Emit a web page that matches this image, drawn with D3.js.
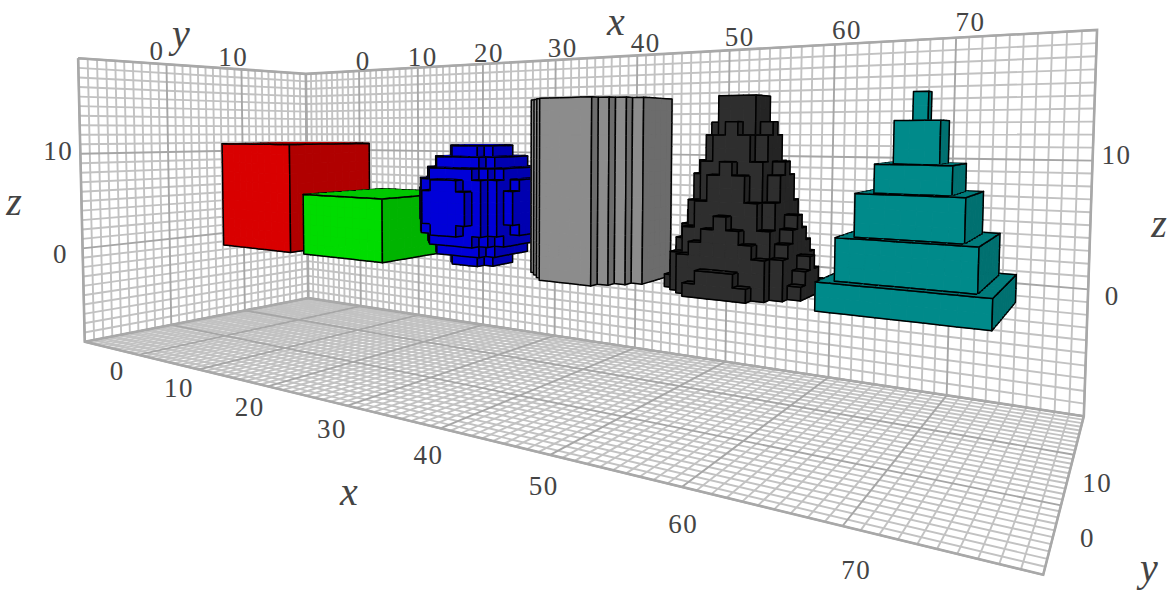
<!DOCTYPE html>
<html>
<head>
<meta charset="utf-8">
<script src="https://cdn.jsdelivr.net/npm/d3@7"></script>
<style>
body { margin: 0; background: #fff; }
text { font-family: "Liberation Serif", serif; fill: #444; }
.title { font-style: italic; font-size: 40px; }
</style>
</head>
<body>
<div id="chart"></div>
<script>
let width = 1175;
let height = 595;

let xRange = [-10, 80];
let yRange = [-10, 20];
let zRange = [-10, 20];
let xTicks = [0, 10, 20, 30, 40, 50, 60, 70];
let yTicks = [0, 10];
let zTicks = [0, 10];

// [x0, x1, y0, y1, z0, z1]
let redBoxes = [[0, 11, 0, 11, 0, 11]];
let greenBoxes = [[13, 24, 0, 11, 0, 6]];
let tealBoxes = [
    [65, 76, 0, 11, 0, 2],
    [66, 75, 1, 10, 2, 5],
    [67, 74, 2, 9, 5, 8],
    [68, 73, 3, 8, 8, 10],
    [69, 72, 4, 7, 10, 13],
    [70, 71, 5, 6, 13, 15]
];

// [z, half widths of each row along y], -1 is an empty row
let blueCenter = [31, 5];
let blueLayers = [
    [0, [1, 2, 2, 2, 1]],
    [1, [2, 3, 3, 3, 3, 3, 2]],
    [2, [2, 3, 4, 4, 4, 4, 4, 3, 2]],
    [3, [1, 3, 4, 4, 5, 5, 5, 4, 4, 3, 1]],
    [4, [2, 3, 4, 5, 5, 5, 5, 5, 4, 3, 2]],
    [5, [2, 3, 4, 5, 5, 5, 5, 5, 4, 3, 2]],
    [6, [2, 3, 4, 5, 5, 5, 5, 5, 4, 3, 2]],
    [7, [1, 3, 4, 4, 5, 5, 5, 4, 4, 3, 1]],
    [8, [2, 3, 4, 4, 4, 4, 4, 3, 2]],
    [9, [2, 3, 3, 3, 3, 3, 2]],
    [10, [1, 2, 2, 2, 1]]
];

let grayCenter = [44, 5];
let grayRows = [2, 3, 4, 5, 5, 5, 5, 5, 4, 3, 2];
let grayLevels = [0, 1, 2, 3, 4, 5, 6, 7, 8, 9, 10, 11, 12, 13, 14];

let blackCenter = [57, 5];
let blackLayers = [
    [0, [2, 3, 4, 5, 5, 5, 5, 5, 4, 3, 2]],
    [1, [1, 3, 4, 4, 5, 5, 5, 4, 4, 3, 1]],
    [2, [-1, 3, 4, 4, 4, 5, 4, 4, 4, 3, -1]],
    [3, [2, 3, 4, 4, 4, 4, 4, 3, 2]],
    [4, [1, 3, 3, 4, 4, 4, 3, 3, 1]],
    [5, [0, 2, 3, 3, 4, 3, 3, 2, 0]],
    [6, [2, 3, 3, 3, 3, 3, 2]],
    [7, [1, 2, 3, 3, 3, 2, 1]],
    [8, [1, 2, 3, 3, 3, 2, 1]],
    [9, [0, 2, 2, 3, 2, 2, 0]],
    [10, [1, 2, 2, 2, 1]],
    [11, [1, 2, 2, 2, 1]],
    [12, [0, 1, 2, 1, 0]],
    [13, [1, 1, 1]],
    [14, [1, 1, 1]]
];

// front, side, top
let redShades = ["#d90000", "#b00000", "#c40000"];
let greenShades = ["#00dc00", "#00b400", "#00c800"];
let blueShades = ["#0000d8", "#0000b0", "#0000c4"];
let grayShades = ["#8c8c8c", "#6c6c6c", "#7c7c7c"];
let blackShades = ["#2e2e2e", "#242424", "#2a2a2a"];
let tealShades = ["#008a8a", "#007070", "#007c7c"];

// fitted to the box corners, maps the unit cube to the screen
let camera = [
    [398.1079, 297.5572, -7.7063, 82.8001],
    [-68.9248, 33.9616, -277.9075, 333.9011],
    [-0.5157951, 0.2572794, -0.0156975, 0.9767833]
];
let eyeZ = 12.2;

let xScale = d3.scaleLinear().domain(xRange).range([0, 1]);
let yScale = d3.scaleLinear().domain(yRange).range([0, 1]);
let zScale = d3.scaleLinear().domain(zRange).range([0, 1]);

function project(x, y, z) {
    let v = [xScale(x), yScale(y), zScale(z), 1];
    let row = r => d3.sum(r, (c, i) => c * v[i]);
    let w = row(camera[2]);
    return [row(camera[0]) / w, row(camera[1]) / w];
}

let svg = d3.select("#chart").append("svg")
    .attr("width", width)
    .attr("height", height)
    .style("display", "block");

// ---- grid on the three back planes
let gridLines = [];
function addLine(a, b, v) {
    gridLines.push({a: a, b: b, major: v % 10 === 0});
}
let [x0, x1] = xRange, [y0, y1] = yRange, [z0, z1] = zRange;
d3.range(x0, x1 + 1).forEach(x => {
    addLine([x, y1, z0], [x, y1, z1], x);
    addLine([x, y0, z0], [x, y1, z0], x);
});
d3.range(y0, y1 + 1).forEach(y => {
    addLine([x0, y, z0], [x0, y, z1], y);
    addLine([x0, y, z0], [x1, y, z0], y);
});
d3.range(z0, z1 + 1).forEach(z => {
    addLine([x0, y0, z], [x0, y1, z], z);
    addLine([x0, y1, z], [x1, y1, z], z);
});
gridLines.sort((p, q) => p.major - q.major);

svg.append("g").selectAll("line")
    .data(gridLines)
    .join("line")
    .attr("x1", d => project(...d.a)[0])
    .attr("y1", d => project(...d.a)[1])
    .attr("x2", d => project(...d.b)[0])
    .attr("y2", d => project(...d.b)[1])
    .attr("stroke", d => d.major ? "#a6a6a6" : "#c2c2c2")
    .attr("stroke-width", 1.9);

let borders = [
    [[x0, y0, z1], [x0, y0, z0], [x1, y0, z0], [x1, y1, z0], [x1, y1, z1], [x0, y1, z1], [x0, y0, z1]],
    [[x0, y1, z1], [x0, y1, z0], [x1, y1, z0]],
    [[x0, y0, z0], [x0, y1, z0]]
];
svg.append("g").selectAll("path")
    .data(borders)
    .join("path")
    .attr("d", d => d3.line()(d.map(c => project(...c))))
    .attr("fill", "none")
    .attr("stroke", "#a8a8a8")
    .attr("stroke-width", 2.6);

// ---- voxels
let cells = new Map();
let key = (x, y, z) => x + "," + y + "," + z;

function addBoxes(boxes, shades) {
    boxes.forEach(b => {
        d3.range(b[0], b[1]).forEach(x => d3.range(b[2], b[3]).forEach(y => d3.range(b[4], b[5]).forEach(z => {
            cells.set(key(x, y, z), {x: x, y: y, z: z, shades: shades});
        })));
    });
}
function addLayers(layers, center, shades) {
    layers.forEach(([z, rows]) => {
        rows.forEach((w, r) => {
            let y = center[1] + r - (rows.length - 1) / 2;
            addBoxes([[center[0] - w, center[0] + w + 1, y, y + 1, z, z + 1]], shades);
        });
    });
}
addBoxes(redBoxes, redShades);
addBoxes(greenBoxes, greenShades);
addLayers(blueLayers, blueCenter, blueShades);
addLayers(grayLevels.map(z => [z, grayRows]), grayCenter, grayShades);
addLayers(blackLayers, blackCenter, blackShades);
addBoxes(tealBoxes, tealShades);

let has = (c, d) => cells.has(key(c.x + d[0], c.y + d[1], c.z + d[2]));
let add = (a, b) => a.map((v, i) => v + b[i]);

// normal, two in-plane axes, shade index
let faceKinds = [
    {n: [0, -1, 0], u: [1, 0, 0], v: [0, 0, 1], base: [0, 0, 0], shade: 0},
    {n: [1, 0, 0], u: [0, 1, 0], v: [0, 0, 1], base: [1, 0, 0], shade: 1},
    {n: [0, 0, 1], u: [1, 0, 0], v: [0, 1, 0], base: [0, 0, 1], shade: 2},
    {n: [0, 0, -1], u: [1, 0, 0], v: [0, 1, 0], base: [0, 0, 0], shade: 1}
];

let ordered = Array.from(cells.values()).sort((a, b) =>
    d3.ascending(a.x, b.x) || d3.descending(a.y, b.y) ||
    d3.descending(Math.abs(a.z + 0.5 - eyeZ), Math.abs(b.z + 0.5 - eyeZ)));

let faces = [];
ordered.forEach(c => {
    faceKinds.forEach(f => {
        if (f.n[2] === 1 && c.z + 1 > eyeZ) return;
        if (f.n[2] === -1 && c.z < eyeZ) return;
        if (has(c, f.n)) return;
        let o = add([c.x, c.y, c.z], f.base);
        let pts = [o, add(o, f.u), add(add(o, f.u), f.v), add(o, f.v)].map(p => project(...p));
        let sides = [
            {d: f.v.map(t => -t), from: 0},
            {d: f.u, from: 1},
            {d: f.v, from: 2},
            {d: f.u.map(t => -t), from: 3}
        ];
        let edges = sides.filter(s => !has(c, s.d) || has(c, add(s.d, f.n)))
            .map(s => d3.line()([pts[s.from], pts[(s.from + 1) % 4]])).join("");
        faces.push({poly: d3.line()(pts) + "Z", edges: edges, color: c.shades[f.shade]});
    });
});

let faceGroups = svg.append("g").selectAll("g")
    .data(faces)
    .join("g");
faceGroups.append("path")
    .attr("d", d => d.poly)
    .attr("fill", d => d.color)
    .attr("stroke", d => d.color)
    .attr("stroke-width", 1);
faceGroups.append("path")
    .attr("d", d => d.edges)
    .attr("fill", "none")
    .attr("stroke", "#000")
    .attr("stroke-width", 1.5)
    .attr("stroke-linecap", "round");

// ---- tick labels
function tickLabels(values, at, dx, dy) {
    svg.append("g").selectAll("text")
        .data(values)
        .join("text")
        .attr("x", d => project(...at(d))[0] + dx)
        .attr("y", d => project(...at(d))[1] + dy(d))
        .attr("text-anchor", "middle")
        .attr("dominant-baseline", "central")
        .attr("font-size", 27)
        .attr("letter-spacing", 1.5)
        .text(d => d);
}
tickLabels(xTicks, t => [t + 1.3, y1, z1 + 1.2], -3, t => 0);
tickLabels(xTicks, t => [t + 1.57, y0 - 3.26, z0 - 0.8], 2, t => -1);
tickLabels(yTicks, t => [x0, t - 1, z1 + 1.4], -1, t => 0);
tickLabels(yTicks, t => [x1 + 1.3, t, z0 - 1.6], 2, t => 1);
tickLabels(zTicks, t => [x0, y0, t], -22, t => 6 - 0.9 * t);
tickLabels(zTicks, t => [x1, y1, t], 24, t => 7 - 1.3 * t);

// ---- axis titles
let titles = [
    ["y", 181, 33], ["x", 616, 21], ["x", 349, 491],
    ["y", 1149, 567], ["z", 14, 201], ["z", 1159, 223]
];
svg.append("g").selectAll("text")
    .data(titles)
    .join("text")
    .attr("class", "title")
    .attr("x", d => d[1])
    .attr("y", d => d[2])
    .attr("text-anchor", "middle")
    .attr("dominant-baseline", "central")
    .text(d => d[0]);
</script>
</body>
</html>
